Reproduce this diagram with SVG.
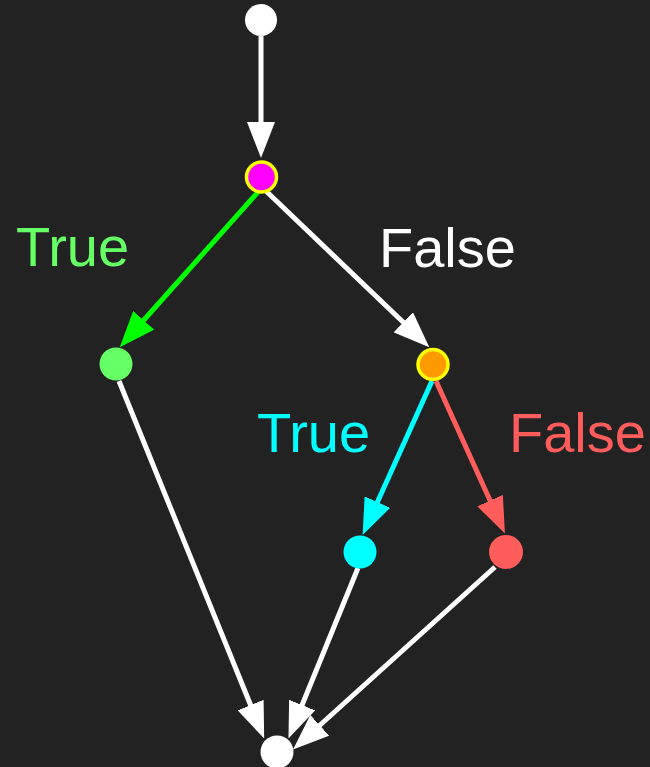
<svg xmlns="http://www.w3.org/2000/svg" width="650" height="767" viewBox="0 0 650 767">
<style>
.e{fill:none;stroke-width:5}
.w{stroke:#ffffff;marker-end:url(#aw)}
.g{stroke:#00ff00;marker-end:url(#ag)}
.c{stroke:#00ffff;marker-end:url(#ac)}
.r{stroke:#ff5c5c;marker-end:url(#ar)}
.lbl{font-family:"Liberation Sans",Arial,sans-serif;font-size:56px}
.dec{stroke:#ffff00;stroke-width:3.5}
</style>
<defs>
<marker id="aw" viewBox="0 0 36 28" refX="1" refY="14" markerUnits="userSpaceOnUse" markerWidth="36" markerHeight="28" orient="auto"><path d="M0,0 L36,14 L0,28 Z" fill="#ffffff"/></marker>
<marker id="ag" viewBox="0 0 36 28" refX="1" refY="14" markerUnits="userSpaceOnUse" markerWidth="36" markerHeight="28" orient="auto"><path d="M0,0 L36,14 L0,28 Z" fill="#00ff00"/></marker>
<marker id="ac" viewBox="0 0 36 28" refX="1" refY="14" markerUnits="userSpaceOnUse" markerWidth="36" markerHeight="28" orient="auto"><path d="M0,0 L36,14 L0,28 Z" fill="#00ffff"/></marker>
<marker id="ar" viewBox="0 0 36 28" refX="1" refY="14" markerUnits="userSpaceOnUse" markerWidth="36" markerHeight="28" orient="auto"><path d="M0,0 L36,14 L0,28 Z" fill="#ff5c5c"/></marker>
</defs>
<rect width="650" height="767" fill="#222222"/>
<g id="connectors">
<path class="e w" d="M261,36 L261,123"/>
<path class="e g" d="M258,192 L143,321"/>
<path class="e w" d="M266,191 L404,323"/>
<path class="e c" d="M432,381 L377,503"/>
<path class="e r" d="M436,381 L490.5,501.5"/>
<path class="e w" d="M119,381 L251,706"/>
<path class="e w" d="M358,568 L301.7,706"/>
<path class="e w" d="M495,567 L319,726"/>
</g>
<g id="labels">
<text class="lbl" x="16" y="266" fill="#66ff66">True</text>
<text class="lbl" x="379" y="266.5" fill="#ffffff">False</text>
<text class="lbl" x="257" y="452" fill="#00ffff">True</text>
<text class="lbl" x="509" y="451.5" fill="#ff5c5c">False</text>
</g>
<g id="start"><circle cx="261" cy="20" r="16" fill="#ffffff"/></g>
<g id="cond1"><circle cx="261.5" cy="177" r="15" fill="#ff00ff" class="dec"/></g>
<g id="trueA"><circle cx="116" cy="364" r="16.5" fill="#66ff66"/></g>
<g id="cond2"><circle cx="433" cy="364.5" r="15" fill="#ff9900" class="dec"/></g>
<g id="trueB"><circle cx="360" cy="552" r="16.5" fill="#00ffff"/></g>
<g id="falseB"><circle cx="506" cy="552" r="17" fill="#ff5c5c"/></g>
<g id="end"><circle cx="277" cy="752" r="16.5" fill="#ffffff"/></g>
</svg>
